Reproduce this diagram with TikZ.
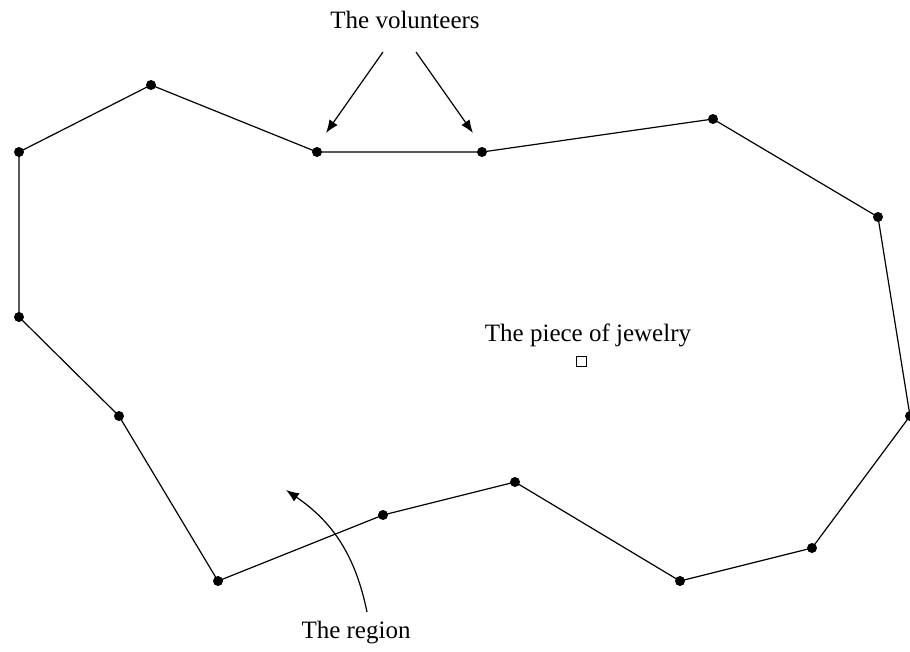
\documentclass[tikz,border=0pt]{standalone}
\usepackage{fontspec}
\setmainfont{Liberation Serif}
\usetikzlibrary{arrows.meta}
\begin{document}
\begin{tikzpicture}[x=1pt,y=-1pt,
  edge/.style={line width=1.2pt},
  pt/.style={circle,fill=black,inner sep=0pt,minimum size=10pt},
  lbl/.style={font=\fontsize{25}{30}\selectfont,inner sep=0pt},
  arr/.style={line width=1.2pt,-{Latex[length=13pt,width=10pt]}}]
\useasboundingbox (0,0) rectangle (910,651);
\foreach \n/\x/\y in {p1/19/152,p2/151/85,p3/317/152,p4/482/152,p5/713/119,p6/878/217,p7/910/416,p8/812/548,p9/680/581,p10/515/482,p11/383/515,p12/218/581,p13/119/416,p14/19/317}
  \coordinate (\n) at (\x,\y);
\draw[edge] (p1)--(p2)--(p3)--(p4)--(p5)--(p6)--(p7)--(p8)--(p9)--(p10)--(p11)--(p12)--(p13)--(p14)--cycle;
\foreach \n in {p1,p2,p3,p4,p5,p6,p7,p8,p9,p10,p11,p12,p13,p14}
  \node[pt] at (\n) {};
\node[lbl,anchor=base] (vol) at (405,28) {The volunteers};
\node[lbl,anchor=base] (jew) at (588,341) {The piece of jewelry};
\node[lbl,anchor=base] (reg) at (356,638) {The region};
\node[draw,line width=1pt,minimum size=10pt,inner sep=0pt] (sq) at (581,361) {};
\coordinate (a1s) at (383,52); \coordinate (a1e) at (326,133);
\coordinate (a2s) at (416,52); \coordinate (a2e) at (473,133);
\coordinate (rs) at (367,612); \coordinate (re) at (286,490);
\draw[arr] (a1s) -- (a1e);
\draw[arr] (a2s) -- (a2e);
\draw[arr] (rs) to[bend right=22] (re);
\end{tikzpicture}
\end{document}
